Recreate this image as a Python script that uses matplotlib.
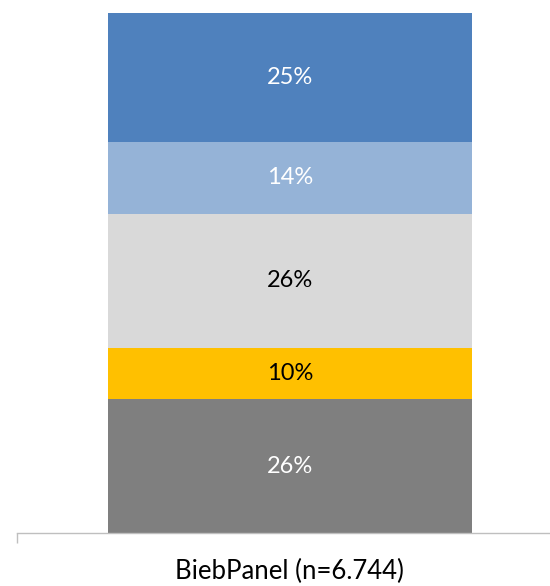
import matplotlib
matplotlib.use("Agg")
import matplotlib.pyplot as plt

plt.rcParams['font.family'] = ['Lato', 'DejaVu Sans']

category = "BiebPanel (n=6.744)"
shares = [26, 10, 26, 14, 25]
colors = ["#7f7f7f", "#ffc000", "#d9d9d9", "#95b3d7", "#4f81bd"]
text_colors = ["white", "black", "black", "white", "white"]

fig = plt.figure(figsize=(5.5, 5.86), dpi=100)
ax = fig.add_axes([17 / 550, 1 - 533 / 586, 533 / 550, 520 / 586])

bar_width = 0.667
bottom = 0
for value, color, tcolor in zip(shares, colors, text_colors):
    ax.bar(0, value, bottom=bottom, width=bar_width, color=color, linewidth=0)
    ax.text(0, bottom + value / 2, f"{value}%", ha="center", va="center",
            color=tcolor, fontsize=17)
    bottom += value

ax.set_xlim(-0.5, 0.4765)
ax.set_ylim(0, bottom)

for side in ("left", "right", "top"):
    ax.spines[side].set_visible(False)
ax.spines["bottom"].set_color("#bfbfbf")
ax.spines["bottom"].set_linewidth(1.0)

ax.set_yticks([])
ax.set_xticks([0])
ax.set_xticklabels([category], fontsize=18.5)
ax.tick_params(axis="x", which="major", length=0, pad=19)
ax.set_xticks([-0.5], minor=True)
ax.tick_params(axis="x", which="minor", length=7, color="#bfbfbf", width=1.0)

fig.savefig("out.png", dpi=100)
